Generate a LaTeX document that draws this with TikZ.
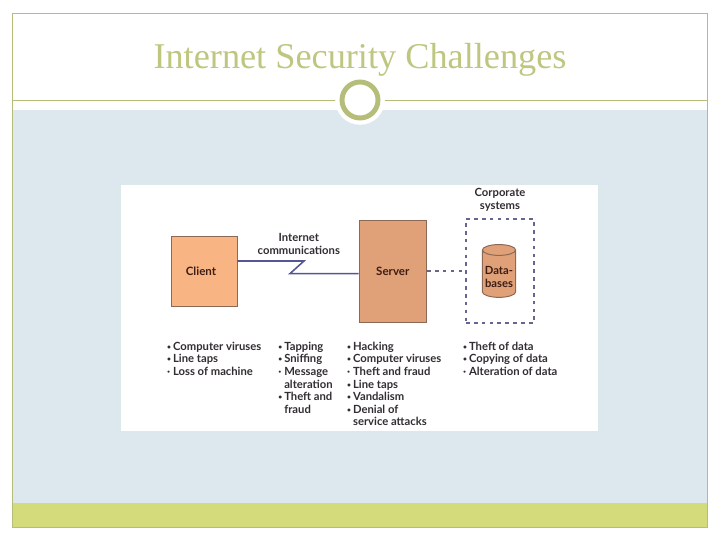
\documentclass[tikz,border=0pt]{standalone}
\usepackage{fontspec}
\setmainfont{Liberation Serif}
\newfontfamily\figfont{Lato}[BoldFont={Lato Bold}]
\usetikzlibrary{positioning,shapes.geometric}
\definecolor{olive}{RGB}{181,189,120}
\definecolor{heading}{RGB}{190,198,128}
\definecolor{panel}{RGB}{220,232,237}
\definecolor{band}{RGB}{211,219,123}
\definecolor{clientfill}{RGB}{248,180,130}
\definecolor{serverfill}{RGB}{224,160,120}
\definecolor{boxedge}{RGB}{140,105,85}
\definecolor{wire}{RGB}{85,85,150}
\definecolor{ink}{RGB}{50,45,50}
\definecolor{brownink}{RGB}{60,30,20}
\newcommand{\itm}{\makebox[0.15cm][l]{\raisebox{0.6pt}{\scalebox{0.6}{\textbullet}}}}
\newcommand{\smallitm}{\makebox[0.15cm][l]{\textperiodcentered}}
\tikzset{
  machine/.style={draw=boxedge,fill=#1,line width=0.7pt,font=\figfont\bfseries\fontsize{8.2}{9}\selectfont,text=brownink},
  caption/.style={font=\figfont\bfseries\fontsize{8}{9.2}\selectfont,text=ink,align=center,inner sep=0pt},
  threats/.style={font=\figfont\bfseries\fontsize{8}{8.96}\selectfont,text=ink,align=left,anchor=north west,inner sep=0pt},
  wireline/.style={draw=wire,line width=1.1pt},
  dashline/.style={draw=wire!60!gray,line width=0.8pt,dash pattern=on 2.6pt off 3pt},
}
\begin{document}
\begin{tikzpicture}
    \useasboundingbox (0,0) rectangle (18,13.5);
    % slide
    \fill[panel] (0.3,0.925) rectangle (17.675,10.75);
    \fill[band] (0.3,0.325) rectangle (17.675,0.925);
    \draw[olive,line width=0.6pt] (0.3,0.325) rectangle (17.675,13.175);
    \coordinate (ruleleft) at (0.3,11);
    \coordinate (ruleright) at (17.675,11);
    \draw[olive,line width=0.6pt] (ruleleft) -- (ruleright);
    \node[circle,fill=white,minimum size=12.4mm,inner sep=0pt] (halo) at (9,11) {};
    \node[circle,draw=olive,line width=3.5pt,minimum size=9mm,inner sep=0pt] (ring) at (9,11) {};
    \node[font=\fontsize{25.8}{28}\selectfont,text=heading] (title) at (9,12.0) {Internet Security Challenges};
    % figure
    \fill[white] (3.025,2.725) rectangle (14.95,8.875);
    \node[machine=clientfill,minimum width=16.5mm,minimum height=17.5mm,text depth=0pt] (client) at (5.1,6.71) {\hspace*{-1.5mm}Client};
    \node[machine=serverfill,minimum width=16.9mm,minimum height=25.5mm] (server) at (9.82,6.725) {Server};
    \node[draw=wire!60!gray,line width=0.8pt,dash pattern=on 2.6pt off 3pt,minimum width=17mm,minimum height=26mm] (corporate) at (12.5,6.725) {};
    \node[cylinder,shape border rotate=90,aspect=1.1,draw=boxedge,fill=serverfill,line width=0.7pt,
      minimum width=8.3mm,minimum height=13.2mm,inner sep=1pt] (databases) at (12.475,6.625) {\phantom{x}};
    \node[text=brownink,align=center,inner sep=0pt,font=\figfont\bfseries\fontsize{8}{9.2}\selectfont] (dblabel) at (12.475,6.57) {Data-\\bases};
    \coordinate (bendtop) at (7.6,6.975);
    \coordinate (bendlow) at (7.25,6.66);
    \draw[wireline] (client.east |- bendtop) -- (bendtop) -- (bendlow) -- (server.west |- bendlow);
    \draw[dashline] (server.east) -- (corporate.west);
    \node[caption] (internet) at (7.47,7.05) [yshift=0.36cm] {Internet\\communications};
    \node[caption] (systems) [above=0.18cm of corporate] {Corporate\\systems};
    % threat lists
    \node[threats] (clientlist) at (4.17,4.96) {\itm Computer viruses\\\itm Line taps\\\smallitm Loss of machine};
    \node[threats] (wirelist) at (6.95,4.96) {\itm Tapping\\\itm Sniffing\\\smallitm Message\\\hspace*{0.15cm}alteration\\\itm Theft and\\\hspace*{0.15cm}fraud};
    \node[threats] (serverlist) at (8.67,4.96) {\itm Hacking\\\itm Computer viruses\\\smallitm Theft and fraud\\\itm Line taps\\\itm Vandalism\\\itm Denial of\\\hspace*{0.15cm}service attacks};
    \node[threats] (datalist) at (11.57,4.96) {\itm Theft of data\\\itm Copying of data\\\smallitm Alteration of data};
  \end{tikzpicture}
\end{document}
